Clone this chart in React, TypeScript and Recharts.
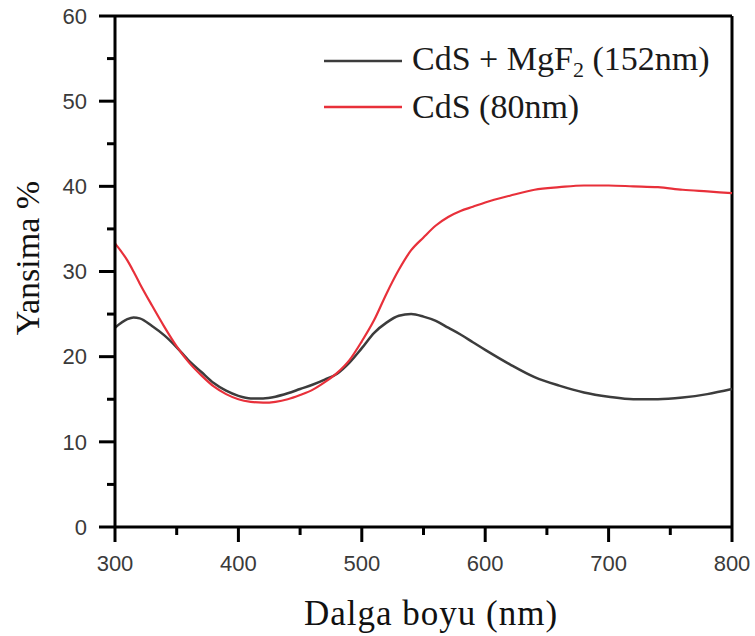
import { LineChart, Line, XAxis, YAxis, ReferenceLine } from "recharts";

// wavelength grid (nm)
const wavelengths = [
  300, 310, 315, 320, 330, 340, 350, 360, 370, 380, 390, 400, 410, 420, 430, 440, 450, 460, 470, 480,
  490, 500, 510, 520, 530, 540, 550, 560, 570, 580, 590, 600, 620, 640, 660, 680, 700, 720, 740, 760,
  780, 800,
];

// reflectance, CdS + MgF2 (152nm)
const coated = [
  23.4, 24.4, 24.6, 24.5, 23.6, 22.5, 21.1, 19.5, 18.2, 16.9, 16.0, 15.4, 15.1, 15.1, 15.3, 15.7, 16.2,
  16.7, 17.3, 18.0, 19.3, 21.0, 22.8, 24.0, 24.8, 25.0, 24.7, 24.2, 23.4, 22.6, 21.7, 20.8, 19.1, 17.6,
  16.6, 15.8, 15.3, 15.0, 15.0, 15.2, 15.6, 16.2,
];

// reflectance, CdS (80nm)
const bare = [
  33.3, 31.3, 30.0, 28.6, 26.0, 23.5, 21.2, 19.3, 17.8, 16.5, 15.6, 15.0, 14.7, 14.6, 14.7, 15.0, 15.5,
  16.1, 17.0, 18.1, 19.6, 21.8, 24.3, 27.4, 30.2, 32.5, 34.0, 35.4, 36.4, 37.1, 37.6, 38.1, 38.9, 39.6,
  39.9, 40.1, 40.1, 40.0, 39.9, 39.6, 39.4, 39.2,
];

const xTicks = [300, 350, 400, 450, 500, 550, 600, 650, 700, 750, 800];
const yTicks = [0, 5, 10, 15, 20, 25, 30, 35, 40, 45, 50, 55, 60];

const data = wavelengths.map((nm, i) => ({ nm, coated: coated[i], bare: bare[i] }));

const TICK_FONT = "'Liberation Sans', Arial, sans-serif";
const SERIF = "'Liberation Serif', 'Times New Roman', serif";
const GRAY = "#3c3c3c";
const RED = "#e8303a";

function XTick({ x, y, payload }: any) {
  const major = payload.value % 100 === 0;
  return (
    <g>
      <line x1={x} x2={x} y1={y} y2={y + (major ? 15 : 8)} stroke="#000" strokeWidth={3} />
      {major && (
        <text x={x} y={y + 36} textAnchor="middle" dy="0.35em" fontSize={22} fill="#3a3a3a" fontFamily={TICK_FONT}>
          {payload.value}
        </text>
      )}
    </g>
  );
}

function YTick({ x, y, payload }: any) {
  const major = payload.value % 10 === 0;
  return (
    <g>
      <line x1={x} x2={x - (major ? 16 : 8)} y1={y} y2={y} stroke="#000" strokeWidth={3} />
      {major && (
        <text x={x - 28} y={y} textAnchor="end" dy="0.35em" fontSize={22} fill="#3a3a3a" fontFamily={TICK_FONT}>
          {payload.value}
        </text>
      )}
    </g>
  );
}

function LegendRow({ color, children }: { color: string; children: React.ReactNode }) {
  return (
    <div style={{ display: "flex", alignItems: "center", height: 46 }}>
      <svg width={78} height={6} style={{ marginRight: 10 }}>
        <line x1={0} x2={78} y1={3} y2={3} stroke={color} strokeWidth={2.5} />
      </svg>
      <span style={{ fontFamily: SERIF, fontSize: 34, color: "#1a1a1a", whiteSpace: "nowrap", lineHeight: 1 }}>
        {children}
      </span>
    </div>
  );
}

export default function App() {
  return (
    <div style={{ position: "absolute", left: 0, top: 0, width: 755, height: 636, background: "#fff" }}>
      <LineChart width={755} height={636} data={data} margin={{ top: 16, right: 23, left: 0, bottom: 0 }}>
        <XAxis
          dataKey="nm"
          type="number"
          domain={[300, 800]}
          ticks={xTicks}
          interval={0}
          height={109}
          tickSize={0}
          tickMargin={0}
          tickLine={false}
          axisLine={{ stroke: "#000", strokeWidth: 3 }}
          tick={(p: any) => <XTick {...p} />}
        />
        <YAxis
          type="number"
          domain={[0, 60]}
          ticks={yTicks}
          interval={0}
          width={115}
          tickSize={0}
          tickMargin={0}
          tickLine={false}
          axisLine={{ stroke: "#000", strokeWidth: 3 }}
          tick={(p: any) => <YTick {...p} />}
        />
        <ReferenceLine y={60} stroke="#000" strokeWidth={3} />
        <ReferenceLine x={800} stroke="#000" strokeWidth={3} />
        <Line dataKey="coated" type="monotone" stroke={GRAY} strokeWidth={2.5} dot={false} isAnimationActive={false} />
        <Line dataKey="bare" type="monotone" stroke={RED} strokeWidth={2.2} dot={false} isAnimationActive={false} />
        <text
          x={27}
          y={258}
          transform="rotate(-90 27 258)"
          textAnchor="middle"
          dy="0.35em"
          fontSize={34}
          fill="#111"
          fontFamily={SERIF}
        >
          Yansima %
        </text>
        <text x={431} y={625} textAnchor="middle" fontSize={35} fill="#111" fontFamily={SERIF} letterSpacing={1}>
          Dalga boyu (nm)
        </text>
      </LineChart>
      <div style={{ position: "absolute", left: 324, top: 38 }}>
        <LegendRow color={GRAY}>
          CdS + MgF<sub style={{ fontSize: 22, verticalAlign: "-7px" }}>2</sub> (152nm)
        </LegendRow>
        <LegendRow color={RED}>CdS (80nm)</LegendRow>
      </div>
    </div>
  );
}
